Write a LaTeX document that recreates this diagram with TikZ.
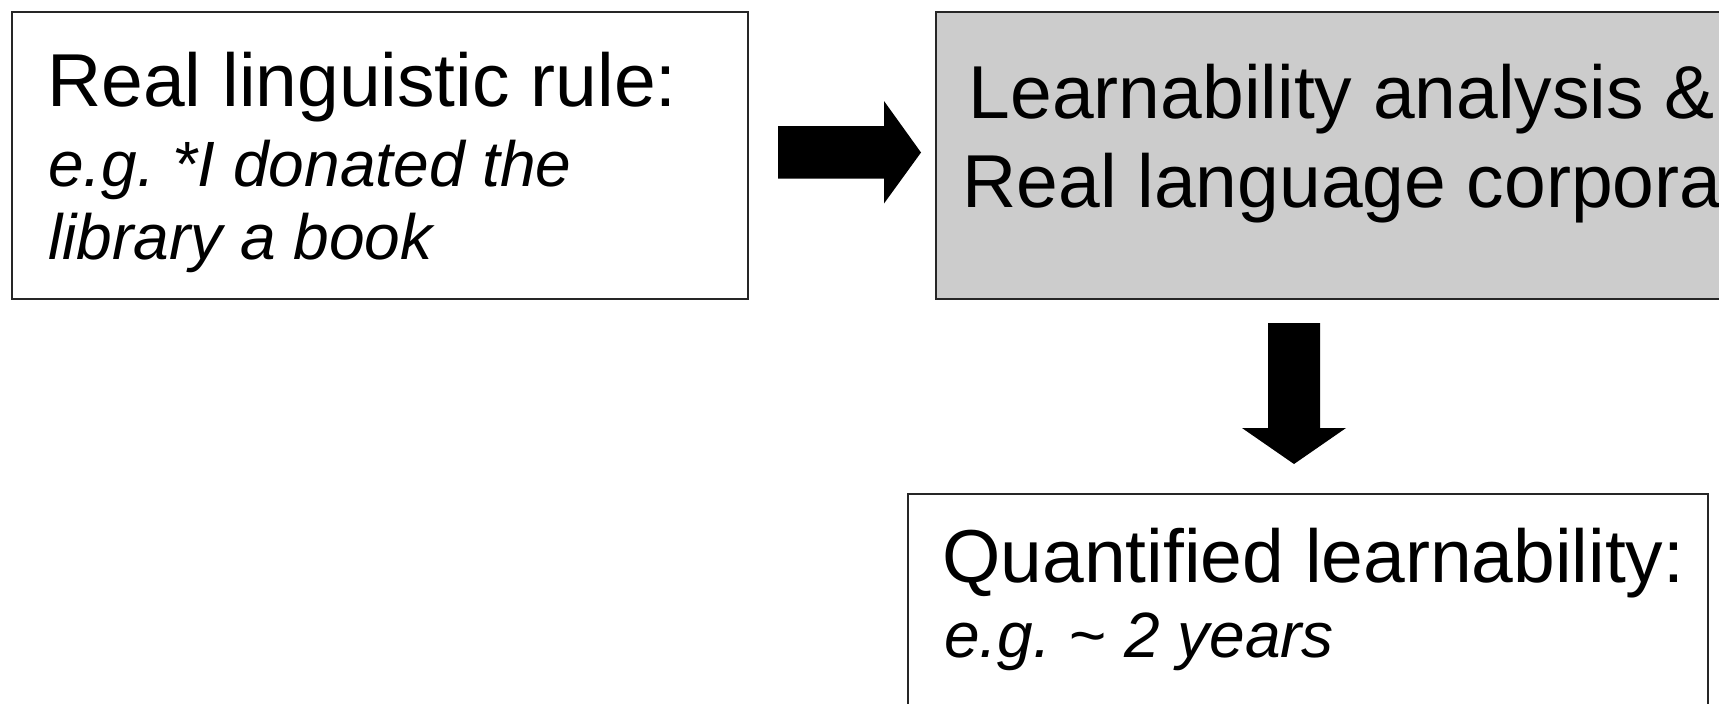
\documentclass[tikz,border=0pt]{standalone}
\usepackage{fontspec}
\setmainfont{Liberation Sans}
\frenchspacing
\begin{document}
\begin{tikzpicture}[x=0.5pt,y=-0.5pt,
  box/.style={draw=black!85, line width=0.9pt, inner sep=0pt, anchor=north west},
  headline/.style={anchor=base west, inner sep=0pt, font=\fontsize{37.5}{44}\selectfont},
  example/.style={anchor=base west, inner sep=0pt, font=\fontsize{32}{38}\selectfont\itshape},
  blockarrow/.style={fill=black}]
\useasboundingbox (0,0) rectangle (1719,703);
\clip (0,0) rectangle (1719,703);

% boxes
\node[box, minimum width=368pt, minimum height=143.5pt] (rule) at (11,11) {};
\node[box, fill=black!20, minimum width=412.5pt, minimum height=143.5pt] (corpus) at (935,11) {};
\node[box, minimum width=400pt, minimum height=133.5pt] (result) at (907,493) {};

% texts
\node[headline] (ruleA) at (47,106) {Real linguistic rule:};
\node[example] (ruleB) at (48,186) {e.g. *I donated the};
\node[example] (ruleC) at (48,259) {library a book};
\node[headline, anchor=base] (corpA) at (1342,118) {Learnability analysis \&};
\node[headline, anchor=base] (corpB) at (1342,207) {Real language corpora};
\node[headline] (resA) at (942,582) {Quantified learnability:};
\node[example] (resB) at (944,657) {e.g. \textasciitilde{} 2 years};

% block arrows
\coordinate (rtail) at (778,152.5);
\coordinate (rtip) at (921,152.5);
\fill[blockarrow] (rtail) ++(0,-26.5) -- ++(106,0) -- ++(0,-25) -- (rtip)
  -- (884,203.5) -- ++(0,-25) -- ++(-106,0) -- cycle;
\coordinate (dtail) at (1294,323);
\coordinate (dtip) at (1294,464);
\fill[blockarrow] (dtail) ++(-26,0) -- ++(52,0) -- ++(0,105) -- ++(26,0) -- (dtip)
  -- (1242,428) -- ++(26,0) -- cycle;
\end{tikzpicture}
\end{document}
